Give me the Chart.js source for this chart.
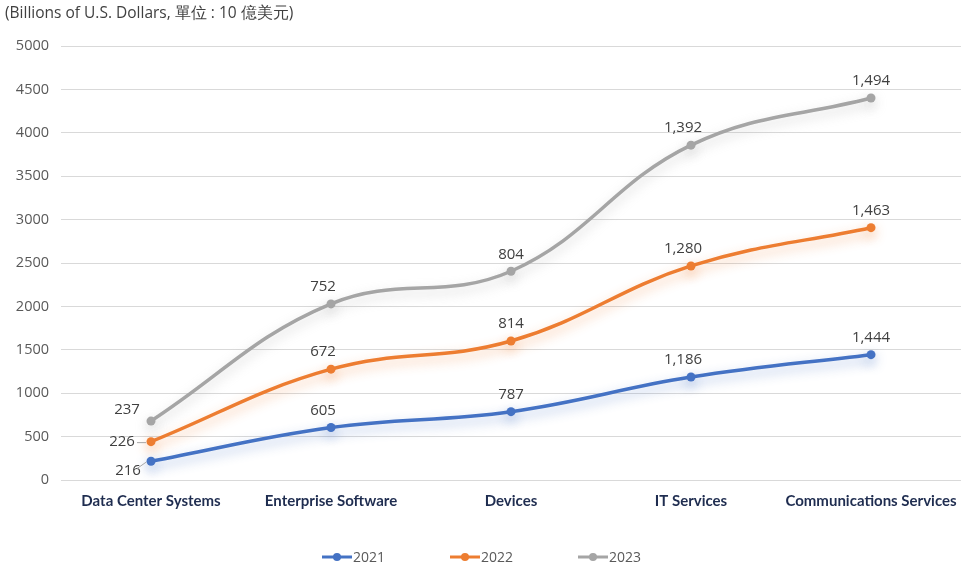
<!DOCTYPE html>
<html><head><meta charset="utf-8">
<script src="https://cdn.jsdelivr.net/npm/chart.js@4"></script>
<style>html,body{margin:0;padding:0;background:#fff}#wrap{width:966px;height:570px}</style>
</head><body><div id="wrap"><canvas id="c" width="966" height="570"></canvas></div>
<script>
const categories = ["Data Center Systems","Enterprise Software","Devices","IT Services","Communications Services"];
const series2021 = [216, 605, 787, 1186, 1444];
const series2022 = [226, 672, 814, 1280, 1463];
const series2023 = [237, 752, 804, 1392, 1494];
const seriesNames = ["2021","2022","2023"];
const yTicks = [0,500,1000,1500,2000,2500,3000,3500,4000,4500,5000];
const colors = ["#4472c4","#ed7d31","#a5a5a5"];
const titleText = "(Billions of U.S. Dollars, 單位 : 10 億美元)";

const glowPlugin = {
  id:'glow',
  beforeDatasetDraw(chart, args){
    const ctx = chart.ctx; ctx.save();
    const c = colors[args.index];
    ctx.shadowColor = c + '77';
    ctx.shadowBlur = 12;
    ctx.shadowOffsetX = 0;
    ctx.shadowOffsetY = 5;
  },
  afterDatasetDraw(chart){ chart.ctx.restore(); }
};

const labelPlugin = {
  id:'labels',
  afterDatasetsDraw(chart){
    const ctx = chart.ctx; ctx.save();
    ctx.font = '15px "Open Sans", Lato, sans-serif';
    ctx.fillStyle = '#404040';
    ctx.textAlign = 'center'; ctx.textBaseline = 'middle';
    chart.data.datasets.forEach((ds, di) => {
      const meta = chart.getDatasetMeta(di);
      meta.data.forEach((pt, i) => {
        const txt = ds.data[i].toLocaleString('en-US');
        if (i === 0) {
          let dx = -24, dy = 0;
          if (di === 0) { dx = -23; dy = 9; }
          if (di === 1) { dx = -29; dy = 0; }
          if (di === 2) { dx = -24; dy = -11; }
          ctx.fillText(txt, pt.x + dx, pt.y + dy);
          if (di < 2) {
            ctx.strokeStyle = '#a6a6a6'; ctx.lineWidth = 1;
            ctx.beginPath();
            ctx.moveTo(pt.x - 14, pt.y + dy*0.7 + 1);
            ctx.lineTo(pt.x - 5, pt.y + 1);
            ctx.stroke();
          }
        } else {
          ctx.fillText(txt, pt.x - (i===1||i===3 ? 8 : 0), pt.y - 17);
        }
      });
    });
    // title
    ctx.font = '15.5px "Open Sans", Lato, sans-serif';
    ctx.textAlign = 'left';
    ctx.fillText(titleText, 5, 14);
    // legend
    ctx.font = '14px "Open Sans", Lato, sans-serif';
    ctx.fillStyle = '#595959';
    const startX = [322, 450, 578], ly = 557;
    chart.data.datasets.forEach((ds, i) => {
      const x = startX[i];
      ctx.strokeStyle = colors[i]; ctx.lineWidth = 3;
      ctx.beginPath(); ctx.moveTo(x, ly); ctx.lineTo(x + 30, ly); ctx.stroke();
      ctx.fillStyle = colors[i];
      ctx.beginPath(); ctx.arc(x + 15, ly, 4, 0, Math.PI*2); ctx.fill();
      ctx.fillStyle = '#595959';
      ctx.fillText(ds.label, x + 31, ly + 1);
    });
    ctx.restore();
  }
};

new Chart(document.getElementById('c'), {
  type:'line',
  data:{
    labels: categories,
    datasets: [series2021, series2022, series2023].map((d, i) => ({
      label: seriesNames[i],
      data: d,
      borderColor: colors[i],
      backgroundColor: colors[i],
      borderWidth: 3.5,
      pointRadius: 4.5,
      pointBorderWidth: 0,
      pointHoverRadius: 4.5,
      tension: 0.4,
      fill: false
    }))
  },
  options:{
    responsive:false,
    animation:false,
    layout:{padding:{top:46,right:5,left:0,bottom:46}},
    plugins:{
      title:{display:false},
      tooltip:{enabled:false},
      legend:{display:false}
    },
    scales:{
      x:{
        offset:true,
        grid:{display:false, drawTicks:false},
        border:{display:false},
        ticks:{color:'#1f2d50', font:{family:'Lato, sans-serif', size:15, weight:'bold'}, maxRotation:0, padding:12},
        afterFit(s){ s.height = 44; s.paddingLeft = 0; s.paddingRight = 0; }
      },
      y:{
        stacked:true,
        min:0, max:5000,
        afterBuildTicks(s){ s.ticks = yTicks.map(v=>({value:v})); },
        grid:{color:'#d9d9d9', drawTicks:false},
        border:{display:false},
        ticks:{color:'#595959', font:{family:'"Open Sans", Lato, sans-serif', size:14.5}, padding:12, callback:v=>String(v)},
        afterFit(s){ s.width = 61; s.paddingTop = 0; s.paddingBottom = 0; }
      }
    }
  },
  plugins:[glowPlugin, labelPlugin]
});
</script>
</body></html>
